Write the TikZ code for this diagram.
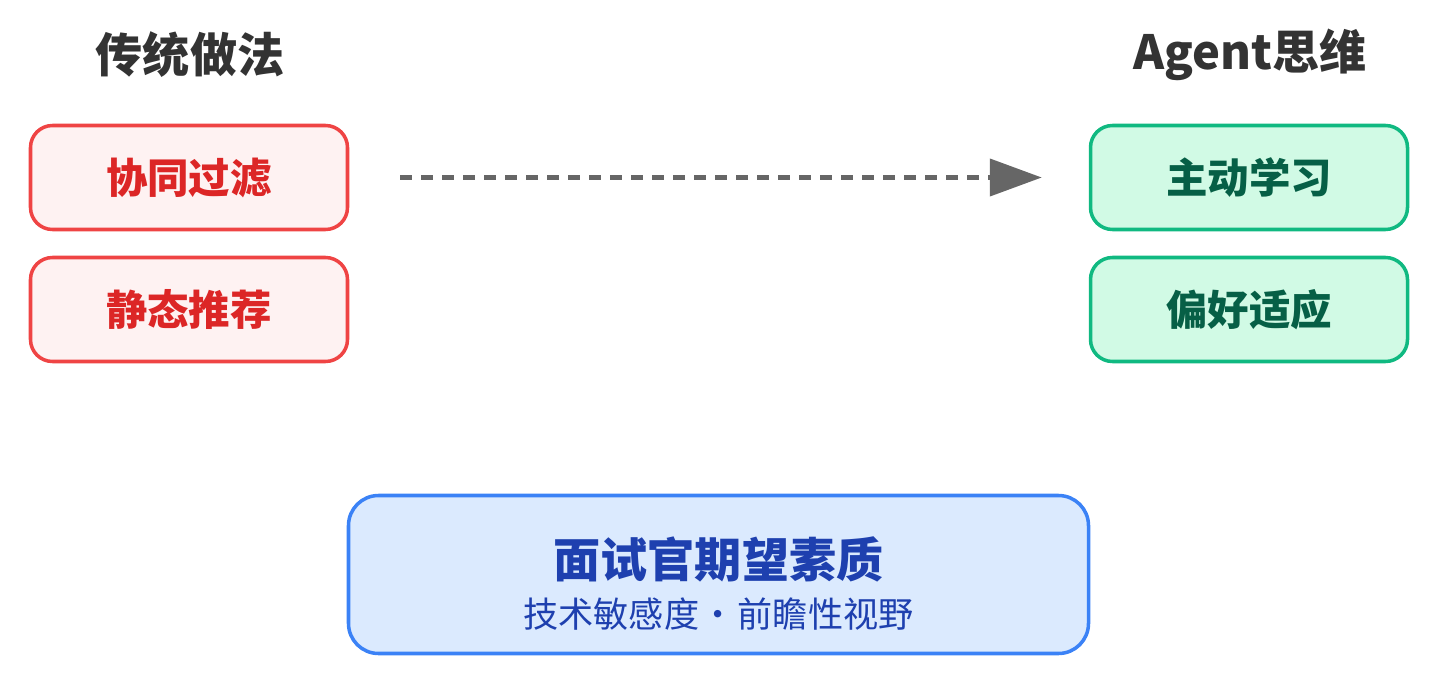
\documentclass[tikz,border=0pt]{standalone}
\usepackage{fontspec}
\setmainfont{Noto Sans CJK SC}
\usetikzlibrary{arrows.meta}
\definecolor{redline}{HTML}{EF4444}
\definecolor{redfill}{HTML}{FEF2F2}
\definecolor{redtext}{HTML}{DC2626}
\definecolor{greenline}{HTML}{10B981}
\definecolor{greenfill}{HTML}{D1FAE5}
\definecolor{greentext}{HTML}{065F46}
\definecolor{blueline}{HTML}{3B82F6}
\definecolor{bluefill}{HTML}{DBEAFE}
\definecolor{bluetext}{HTML}{1E40AF}
\definecolor{headtext}{HTML}{333333}
\definecolor{arrowgray}{HTML}{666666}

\begin{document}
\begin{tikzpicture}[
  head/.style={text=headtext, font=\fontsize{13.4pt}{16pt}\selectfont\bfseries},
  oldbox/.style={draw=redline, fill=redfill, text=redtext, line width=1pt,
    rounded corners=0.22cm, minimum width=3.17cm, minimum height=1.04cm,
    font=\fontsize{11.8pt}{14pt}\selectfont\bfseries},
  newbox/.style={oldbox, draw=greenline, fill=greenfill, text=greentext},
  goalbox/.style={draw=blueline, fill=bluefill, line width=1pt,
    rounded corners=0.3cm, minimum width=7.4cm, minimum height=1.58cm}
]
  \useasboundingbox (0,0) rectangle (14.34,-6.9);
  \node[head] (tradhead) at (1.90,-0.55) {传统做法};
  \node[head] (agenthead) at (12.50,-0.55) {Agent思维};
  \node[oldbox] (cf) at (1.89,-1.775) {协同过滤};
  \node[oldbox] (static) at (1.89,-3.095) {静态推荐};
  \node[newbox] (active) at (12.49,-1.775) {主动学习};
  \node[newbox] (adapt) at (12.49,-3.095) {偏好适应};
  \draw[arrowgray, line width=1.2pt, dash pattern=on 0.12cm off 0.09cm,
    -{Triangle[length=0.52cm, width=0.37cm]}, shorten <=0.51cm, shorten >=0.47cm]
    (cf) -- (active);
  \node[goalbox] (goal) at (7.185,-5.745) {};
  \node[text=bluetext, font=\fontsize{13.4pt}{16pt}\selectfont\bfseries]
    (goaltitle) at ([yshift=0.15cm]goal.center) {面试官期望素质};
  \node[text=bluetext, font=\fontsize{10pt}{12pt}\selectfont]
    (goalsub) at ([yshift=-0.40cm]goal.center) {技术敏感度\kern0.05em·\kern0.05em前瞻性视野};
\end{tikzpicture}
\end{document}
